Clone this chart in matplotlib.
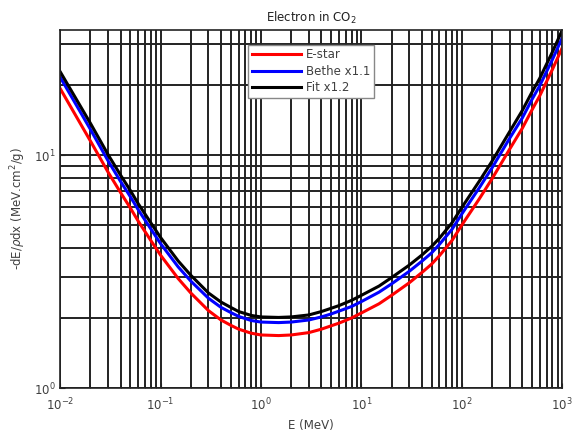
import matplotlib.pyplot as plt
from matplotlib.ticker import LogLocator, NullFormatter

# energy grid (MeV) and stopping powers (MeV cm2/g)
energy = [0.01, 0.02, 0.03, 0.04, 0.05, 0.06, 0.08, 0.1, 0.15, 0.2, 0.3, 0.4, 0.5, 0.6,
          0.8, 1, 1.5, 2, 3, 4, 5, 6, 8, 10, 15, 20, 30, 40, 50, 60, 80, 100, 150,
          200, 300, 400, 500, 600, 800, 1000]
estar = [19.3, 11.5, 8.45, 6.9, 5.93, 5.2, 4.3, 3.72, 2.95, 2.56, 2.15, 1.96, 1.86, 1.79,
         1.72, 1.69, 1.68, 1.69, 1.73, 1.79, 1.85, 1.9, 2.0, 2.1, 2.3, 2.5, 2.83, 3.13, 3.4,
         3.7, 4.3, 5.0, 6.5, 7.9, 10.6, 13.0, 15.6, 18.0, 23.3, 28.8]
bethe = [21.6, 12.9, 9.45, 7.7, 6.63, 5.82, 4.82, 4.17, 3.31, 2.88, 2.43, 2.22, 2.11, 2.03,
         1.95, 1.92, 1.91, 1.92, 1.96, 2.02, 2.08, 2.14, 2.24, 2.35, 2.58, 2.8, 3.17, 3.5,
         3.8, 4.14, 4.8, 5.58, 7.25, 8.8, 11.8, 14.4, 17.3, 19.9, 25.7, 31.8]
fit = [22.8, 13.7, 10.05, 8.2, 7.05, 6.18, 5.12, 4.43, 3.51, 3.05, 2.56, 2.34, 2.22, 2.13,
       2.05, 2.02, 2.01, 2.02, 2.06, 2.13, 2.2, 2.26, 2.38, 2.5, 2.74, 2.98, 3.37, 3.72,
       4.05, 4.4, 5.12, 5.95, 7.74, 9.4, 12.6, 15.5, 18.6, 21.4, 27.7, 34.3]

plt.rcParams['font.family'] = ['DejaVu Sans']
fig = plt.figure(figsize=(5.73, 4.38), dpi=100)
ax = fig.add_axes([0.105, 0.114, 0.876, 0.818])

ax.plot(energy, estar, color='r', lw=2.2, label='E-star')
ax.plot(energy, bethe, color='b', lw=2.2, label='Bethe x1.1')
ax.plot(energy, fit, color='k', lw=2.2, label='Fit x1.2')

ax.set_xscale('log')
ax.set_yscale('log')
ax.set_xlim(1e-2, 1e3)
ax.set_ylim(1, 34.5)

ax.xaxis.set_major_locator(LogLocator(base=10, numticks=10))
ax.xaxis.set_minor_locator(LogLocator(base=10, subs=range(2, 10), numticks=20))
ax.yaxis.set_minor_locator(LogLocator(base=10, subs=range(2, 10), numticks=20))
ax.xaxis.set_minor_formatter(NullFormatter())
ax.yaxis.set_minor_formatter(NullFormatter())

ax.grid(True, which='both', color='#222222', lw=1.4)
ax.set_axisbelow(True)
ax.tick_params(which='both', direction='in', colors='#222222', labelcolor='#404040', labelsize=8.5)
ax.tick_params(axis='x', pad=6)
for s in ax.spines.values():
    s.set_color('#222222')
    s.set_linewidth(1.2)

ax.set_title('Electron in CO$_2$', fontsize=8.5, color='#222222')
ax.set_xlabel('E (MeV)', fontsize=8.5, color='#404040')
ax.set_ylabel(r'-dE/$\rho$dx (MeV.cm$^2$/g)', fontsize=8.5, color='#404040')

leg = ax.legend(loc='upper center', bbox_to_anchor=(0.5, 0.975), fontsize=8.5,
                fancybox=False, framealpha=1, edgecolor='#888888', handlelength=4.2,
                borderpad=0.3, labelspacing=0.3, handletextpad=0.4)
for t in leg.get_texts():
    t.set_color('#404040')

fig.savefig('out.png', dpi=100)
